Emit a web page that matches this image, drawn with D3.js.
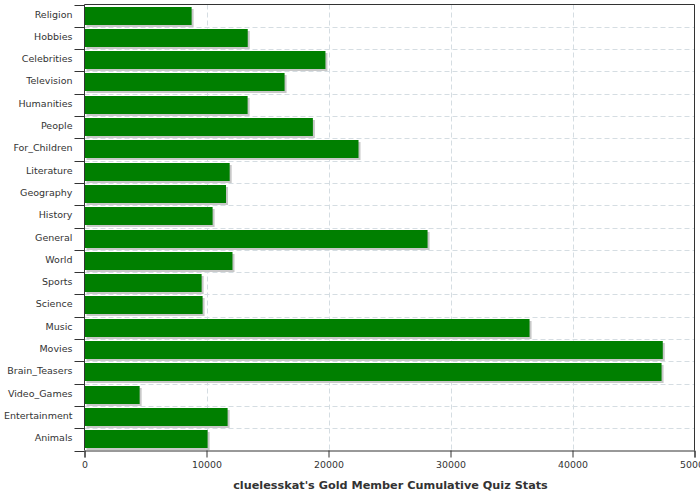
<!DOCTYPE html>
<html><head><meta charset="utf-8">
<script src="https://cdn.jsdelivr.net/npm/d3@7"></script>
<style>body{margin:0;background:#fff;}svg{display:block;font-family:"DejaVu Sans",sans-serif;}</style>
</head><body><svg id="c" width="700" height="500"></svg>
<script>
const categories = ["Religion","Hobbies","Celebrities","Television","Humanities","People","For_Children","Literature","Geography","History","General","World","Sports","Science","Music","Movies","Brain_Teasers","Video_Games","Entertainment","Animals"];
const values = [8780,13380,19750,16400,13370,18720,22460,11900,11600,10500,28120,12130,9600,9680,36480,47400,47300,4520,11730,10090];
const xTicks = [0,10000,20000,30000,40000,50000];
const title = "cluelesskat's Gold Member Cumulative Quiz Stats";

const svg = d3.select("#c");
const L = 84.5, R = 694.5, T = 4.5, B = 450.5;
const x = d3.scaleLinear().domain([0,50000]).range([L,R]);
const y = d3.scaleBand().domain(categories).range([T,B]).paddingInner(0.18).paddingOuter(0.09);
const step = y.step();

// grid
const grid = svg.append("g").attr("stroke","#d5dde2").attr("stroke-dasharray","5,3").attr("stroke-width",1);
xTicks.slice(1,-1).forEach(t=>{
  grid.append("line").attr("x1",Math.round(x(t))+0.5).attr("x2",Math.round(x(t))+0.5).attr("y1",T).attr("y2",B);
});
categories.forEach((c,i)=>{
  if(i===0) return;
  const yy = Math.round(T + i*step)+0.5;
  grid.append("line").attr("x1",L).attr("x2",R).attr("y1",yy).attr("y2",yy);
});

// bars with shadow
const bars = svg.append("g");
categories.forEach((c,i)=>{
  const y0 = Math.round(y(c)), h = Math.round(y.bandwidth());
  const w = x(values[i]) - x(0);
  bars.append("rect").attr("x",x(0)+2).attr("y",y0+2).attr("width",w).attr("height",h).attr("fill","#c8c8c8");
  bars.append("rect").attr("x",x(0)).attr("y",y0).attr("width",w).attr("height",h).attr("fill","#007f00");
});

// frame
svg.append("line").attr("x1",L).attr("x2",R).attr("y1",T).attr("y2",T).attr("stroke","#333");
svg.append("line").attr("x1",R).attr("x2",R).attr("y1",T).attr("y2",B).attr("stroke","#333");

// y axis
const yAxisScale = d3.scaleLinear().domain([0,categories.length]).range([T,B]);
const ya = svg.append("g").attr("stroke","#333");
ya.append("line").attr("x1",L).attr("x2",L).attr("y1",T).attr("y2",B);
d3.range(categories.length+1).forEach(i=>{
  const yy = Math.round(yAxisScale(i))+0.5;
  ya.append("line").attr("x1",L-10).attr("x2",L).attr("y1",yy).attr("y2",yy);
});
svg.append("g").selectAll("text").data(categories).join("text")
  .attr("x",L-12).attr("y",d=>y(d)+y.bandwidth()/2).attr("dy","0.2em")
  .attr("text-anchor","end").attr("font-size",9.5).attr("fill","#333").text(d=>d);

// x axis
const xa = svg.append("g").attr("transform",`translate(0,${B})`)
  .call(d3.axisBottom(x).tickValues(xTicks).tickFormat(d3.format("d")).tickSize(7).tickPadding(4));
xa.select(".domain").attr("stroke","#333");
xa.selectAll(".tick line").attr("stroke","#333");
xa.selectAll("text").attr("font-size",9.4).attr("fill","#333").attr("font-family","DejaVu Sans");

svg.append("text").attr("x",390.5).attr("y",489).attr("text-anchor","middle")
  .attr("font-size",11.25).attr("font-weight","bold").attr("fill","#333").text(title);
</script></body></html>
